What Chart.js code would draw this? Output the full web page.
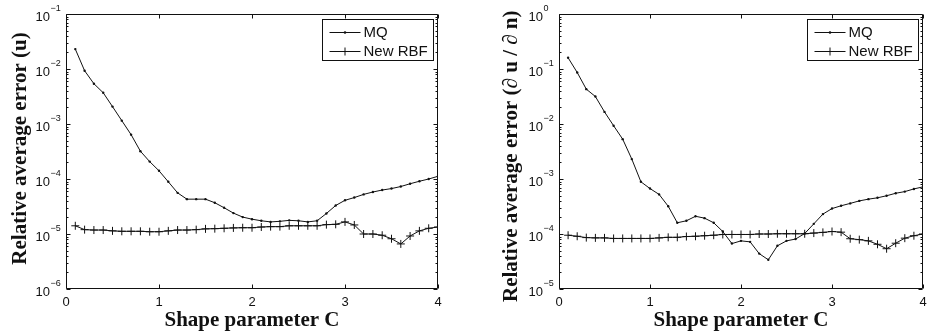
<!DOCTYPE html>
<html>
<head>
<meta charset="utf-8">
<script src="https://cdn.jsdelivr.net/npm/chart.js@4/dist/chart.umd.min.js"></script>
<style>
  body { margin: 0; background: #fff; }
  .row { display: flex; width: 928px; height: 336px; }
  canvas { display: block; }
</style>
</head>
<body>
<div class="row">
  <canvas id="chart-u" width="464" height="336"></canvas>
  <canvas id="chart-dudn" width="464" height="336"></canvas>
</div>
<script>
// shape parameter C (x values, both panels)
const shapeC = [0.1, 0.2, 0.3, 0.4, 0.5, 0.6, 0.7, 0.8, 0.9, 1.0,
                1.1, 1.2, 1.3, 1.4, 1.5, 1.6, 1.7, 1.8, 1.9, 2.0,
                2.1, 2.2, 2.3, 2.4, 2.5, 2.6, 2.7, 2.8, 2.9, 3.0,
                3.1, 3.2, 3.3, 3.4, 3.5, 3.6, 3.7, 3.8, 3.9, 4.0];

// left panel: error in u
const mqU = [2.3e-2, 9.3e-3, 5.4e-3, 3.7e-3, 2.07e-3, 1.15e-3, 6.4e-4, 3.2e-4, 2.07e-4, 1.41e-4,
             8.9e-5, 5.6e-5, 4.3e-5, 4.3e-5, 4.3e-5, 3.7e-5, 3.0e-5, 2.4e-5, 2.03e-5, 1.86e-5,
             1.74e-5, 1.66e-5, 1.7e-5, 1.77e-5, 1.74e-5, 1.66e-5, 1.74e-5, 2.36e-5, 3.3e-5, 4.1e-5,
             4.6e-5, 5.25e-5, 5.8e-5, 6.3e-5, 6.7e-5, 7.3e-5, 8.2e-5, 9.1e-5, 1.0e-4, 1.12e-4];
const rbfU = [1.41e-5, 1.2e-5, 1.18e-5, 1.18e-5, 1.14e-5, 1.12e-5, 1.12e-5, 1.12e-5, 1.1e-5, 1.1e-5,
              1.14e-5, 1.18e-5, 1.18e-5, 1.2e-5, 1.24e-5, 1.25e-5, 1.27e-5, 1.29e-5, 1.3e-5, 1.3e-5,
              1.34e-5, 1.36e-5, 1.36e-5, 1.41e-5, 1.41e-5, 1.41e-5, 1.41e-5, 1.48e-5, 1.5e-5, 1.66e-5,
              1.46e-5, 1.0e-5, 1.0e-5, 9.5e-6, 8.2e-6, 6.6e-6, 9.2e-6, 1.14e-5, 1.27e-5, 1.34e-5];

// right panel: error in du/dn
const mqDudn = [0.16, 0.0865, 0.043, 0.0316, 0.0166, 9.3e-3, 5.3e-3, 2.3e-3, 8.9e-4, 6.7e-4,
                5.25e-4, 3.2e-4, 1.6e-4, 1.74e-4, 2.1e-4, 1.94e-4, 1.6e-4, 1.11e-4, 6.7e-5, 7.5e-5,
                7.2e-5, 4.4e-5, 3.4e-5, 6.1e-5, 7.5e-5, 8.1e-5, 1.02e-4, 1.53e-4, 2.3e-4, 2.9e-4,
                3.26e-4, 3.6e-4, 4.0e-4, 4.3e-4, 4.55e-4, 4.96e-4, 5.5e-4, 5.9e-4, 6.6e-4, 7.2e-4];
const rbfDudn = [9.5e-5, 9.1e-5, 8.6e-5, 8.5e-5, 8.5e-5, 8.3e-5, 8.3e-5, 8.3e-5, 8.3e-5, 8.3e-5,
                 8.5e-5, 8.7e-5, 8.7e-5, 9.0e-5, 9.1e-5, 9.3e-5, 9.5e-5, 9.8e-5, 9.8e-5, 9.8e-5,
                 9.8e-5, 1.0e-4, 1.0e-4, 1.01e-4, 1.01e-4, 1.01e-4, 1.01e-4, 1.04e-4, 1.07e-4, 1.11e-4,
                 1.08e-4, 8.2e-5, 7.9e-5, 7.5e-5, 6.5e-5, 5.4e-5, 6.8e-5, 8.4e-5, 9.3e-5, 1.0e-4];

const xTicks = [0, 1, 2, 3, 4];
const uExponents = [-6, -5, -4, -3, -2, -1];
const dudnExponents = [-5, -4, -3, -2, -1, 0];
const seriesNames = ['MQ', 'New RBF'];

const INK = '#111';
const SANS = '"Liberation Sans", Arial, sans-serif';
const SERIF = '"Liberation Serif", "Times New Roman", serif';

// matlab-style box, inward ticks, labels and boxed legend
const matlabAxes = {
  id: 'matlabAxes',
  afterDatasetsDraw(chart, args, opts) {
    const { ctx, chartArea: a, scales: { x, y } } = chart;
    const L = Math.round(a.left) + 0.5, R = Math.round(a.right) - 0.5;
    const T = Math.round(a.top) + 0.5, B = Math.round(a.bottom) - 0.5;
    ctx.save();
    ctx.strokeStyle = INK;
    ctx.fillStyle = INK;
    ctx.lineWidth = 1;
    ctx.beginPath();
    ctx.rect(L, T, R - L, B - T);

    // x ticks
    xTicks.forEach(v => {
      const px = Math.round(x.getPixelForValue(v)) + 0.5;
      ctx.moveTo(px, B); ctx.lineTo(px, B - 4);
      ctx.moveTo(px, T); ctx.lineTo(px, T + 4);
    });
    // y ticks, majors and minors
    const ex = opts.exponents;
    ex.forEach((e, i) => {
      const py = Math.round(y.getPixelForValue(Math.pow(10, e))) + 0.5;
      ctx.moveTo(L, py); ctx.lineTo(L + 4, py);
      ctx.moveTo(R, py); ctx.lineTo(R - 4, py);
      if (i < ex.length - 1) {
        for (let m = 2; m < 10; m++) {
          const pm = Math.round(y.getPixelForValue(m * Math.pow(10, e))) + 0.5;
          ctx.moveTo(L, pm); ctx.lineTo(L + 2, pm);
          ctx.moveTo(R, pm); ctx.lineTo(R - 2, pm);
        }
      }
    });
    ctx.stroke();

    // x tick labels
    ctx.font = '13px ' + SANS;
    ctx.textAlign = 'center';
    ctx.textBaseline = 'middle';
    xTicks.forEach(v => ctx.fillText(String(v), x.getPixelForValue(v), a.bottom + 13));

    // y tick labels 10^e
    ctx.textBaseline = 'alphabetic';
    ex.forEach(e => {
      const py = y.getPixelForValue(Math.pow(10, e));
      ctx.font = '13px ' + SANS;
      ctx.textAlign = 'right';
      ctx.fillText('10', a.left - 16, py + 6.5);
      ctx.font = '9px ' + SANS;
      ctx.textAlign = 'left';
      ctx.fillText(String(e).replace('-', '\u2212'), a.left - 15.5, py - 3);
    });

    // axis titles
    ctx.font = 'bold 21px ' + SERIF;
    ctx.textAlign = 'center';
    ctx.fillText(opts.xTitle, (a.left + a.right) / 2, 325.5);
    ctx.save();
    ctx.translate(opts.yTitleX, opts.yTitleY);
    ctx.rotate(-Math.PI / 2);
    ctx.textAlign = opts.yTitleAlign;
    ctx.fillText(opts.yTitle, 0, 0);
    ctx.restore();

    // legend
    const lw = 111, lh = 41;
    const lx = Math.round(a.right) - 5 - lw + 0.5, ly = Math.round(a.top) + 5 + 0.5;
    ctx.fillStyle = '#fff';
    ctx.fillRect(lx, ly, lw, lh);
    ctx.strokeRect(lx, ly, lw, lh);
    ctx.font = '15px ' + SANS;
    ctx.textAlign = 'left';
    ctx.textBaseline = 'middle';
    chart.data.datasets.forEach((ds, i) => {
      const ry = Math.round(ly + 12 + i * 19) + 0.5;
      ctx.strokeStyle = INK;
      ctx.beginPath();
      ctx.moveTo(lx + 7, ry); ctx.lineTo(lx + 38, ry);
      const cx = lx + 22.5;
      if (ds.pointStyle === 'cross') {
        ctx.moveTo(cx - 4, ry); ctx.lineTo(cx + 4, ry);
        ctx.moveTo(cx, ry - 4); ctx.lineTo(cx, ry + 4);
      }
      ctx.stroke();
      if (ds.pointStyle !== 'cross') {
        ctx.fillStyle = INK;
        ctx.beginPath(); ctx.arc(cx, ry, 1.3, 0, Math.PI * 2); ctx.fill();
      }
      ctx.fillStyle = INK;
      ctx.fillText(ds.label, lx + 41, ry + 0.5);
    });
    ctx.restore();
  }
};

function makeChart(id, mq, rbf, exps, cfg) {
  const ctx = document.getElementById(id).getContext('2d');
  return new Chart(ctx, {
    type: 'line',
    data: {
      datasets: [{
        label: seriesNames[0],
        data: shapeC.map((c, i) => ({ x: c, y: mq[i] })),
        borderColor: INK,
        borderWidth: 1,
        pointStyle: 'circle',
        pointRadius: 1.2,
        pointBorderWidth: 0,
        pointBackgroundColor: INK,
        tension: 0
      }, {
        label: seriesNames[1],
        data: shapeC.map((c, i) => ({ x: c, y: rbf[i] })),
        borderColor: INK,
        borderWidth: 1,
        pointStyle: 'cross',
        pointRadius: 4,
        pointBorderWidth: 1,
        pointBorderColor: INK,
        tension: 0
      }]
    },
    options: {
      responsive: false,
      animation: false,
      events: [],
      layout: { padding: { top: 14, right: cfg.padRight, left: 0, bottom: 0 } },
      plugins: {
        legend: { display: false },
        tooltip: { enabled: false },
        matlabAxes: {
          exponents: exps,
          xTitle: 'Shape parameter C',
          yTitle: cfg.yTitle,
          yTitleX: cfg.yTitleX,
          yTitleY: cfg.yTitleY,
          yTitleAlign: cfg.yTitleAlign
        }
      },
      scales: {
        x: {
          type: 'linear', min: 0, max: 4,
          ticks: { display: false },
          grid: { display: false },
          border: { display: false },
          afterFit: s => { s.height = 47; }
        },
        y: {
          type: 'logarithmic',
          min: Math.pow(10, exps[0]),
          max: Math.pow(10, exps[exps.length - 1]),
          ticks: { display: false },
          grid: { display: false },
          border: { display: false },
          afterFit: s => { s.width = cfg.yWidth; }
        }
      }
    },
    plugins: [matlabAxes]
  });
}

makeChart('chart-u', mqU, rbfU, uExponents, {
  yWidth: 66, padRight: 26,
  yTitle: 'Relative average error (u)',
  yTitleX: 26, yTitleY: 148.5, yTitleAlign: 'center'
});

makeChart('chart-dudn', mqDudn, rbfDudn, dudnExponents, {
  yWidth: 95, padRight: 1,
  yTitle: 'Relative average error (\u2202 u / \u2202 n)',
  yTitleX: 52.5, yTitleY: 302, yTitleAlign: 'left'
});
</script>
</body>
</html>
